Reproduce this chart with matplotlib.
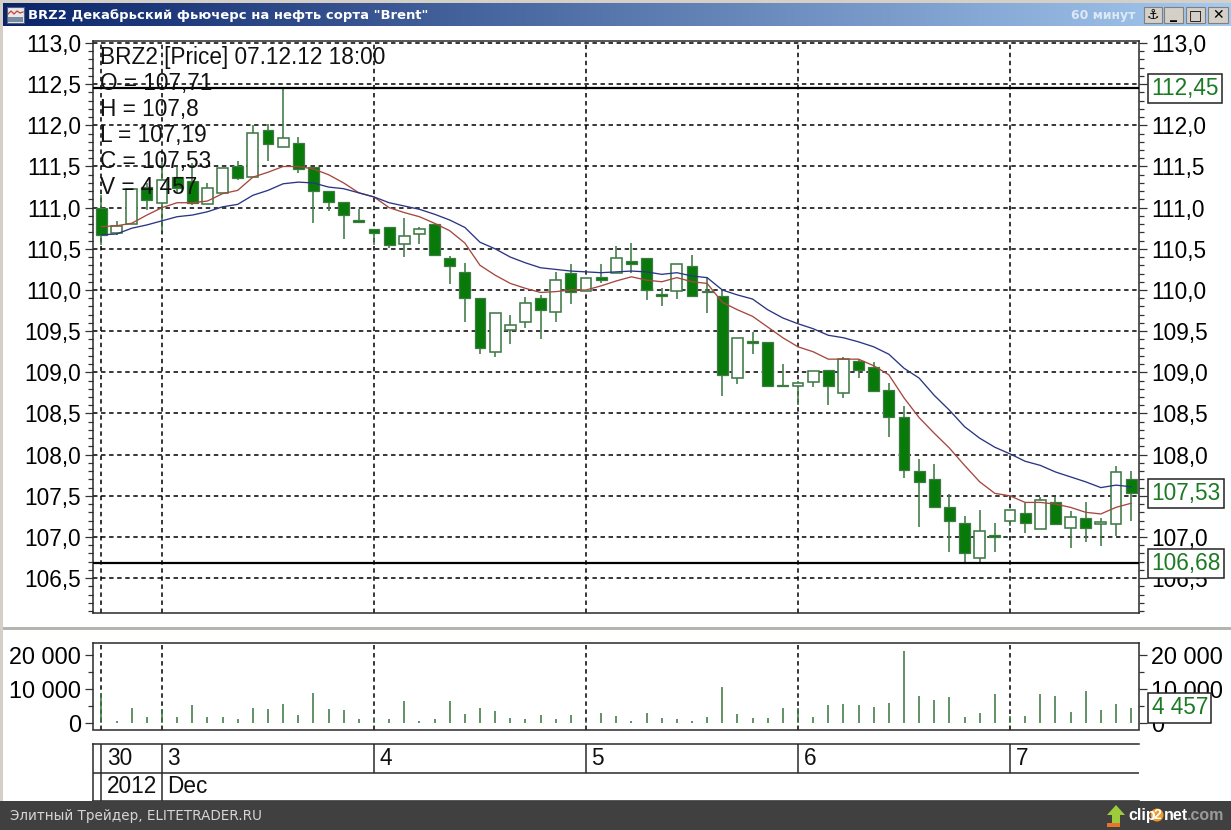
import numpy as np
import matplotlib
matplotlib.use("Agg")
import matplotlib.pyplot as plt
from matplotlib.patches import Rectangle, Polygon, Circle
from matplotlib.ticker import MultipleLocator, FixedLocator, FuncFormatter

W, H = 1231, 830

opens = [111.00, 110.69, 110.80, 111.25, 111.06, 111.37, 111.32, 111.04, 111.18, 111.51,
         111.37, 111.94, 111.74, 111.79, 111.49, 111.20, 111.07, 110.85, 110.74, 110.77,
         110.56, 110.68, 110.80, 110.39, 110.22, 109.90, 109.25, 109.51, 109.61, 109.90,
         109.73, 110.21, 109.99, 110.16, 110.21, 110.35, 110.39, 109.95, 109.99, 110.29,
         109.99, 109.93, 108.93, 109.38, 109.37, 108.85, 108.83, 108.88, 109.03, 108.75,
         109.14, 109.06, 108.78, 108.46, 107.80, 107.70, 107.37, 107.17, 106.74, 107.02,
         107.19, 107.29, 107.10, 107.42, 107.11, 107.23, 107.16, 107.16, 107.71]
highs = [111.15, 110.84, 111.23, 111.30, 111.55, 111.49, 111.54, 111.30, 111.48, 111.57,
         112.00, 112.02, 112.45, 111.86, 111.49, 111.20, 111.07, 110.98, 110.74, 110.77,
         110.87, 110.77, 110.80, 110.41, 110.33, 109.90, 109.72, 109.70, 109.91, 109.94,
         110.22, 110.32, 110.15, 110.32, 110.53, 110.57, 110.39, 110.02, 110.32, 110.42,
         110.16, 110.01, 109.42, 109.49, 109.37, 109.10, 108.90, 109.02, 109.03, 109.19,
         109.16, 109.13, 108.87, 108.59, 107.95, 107.89, 107.52, 107.25, 107.33, 107.17,
         107.33, 107.41, 107.48, 107.49, 107.31, 107.42, 107.23, 107.86, 107.80]
lows = [110.55, 110.67, 110.80, 110.97, 110.72, 111.18, 111.03, 111.04, 111.18, 111.34,
        111.37, 111.57, 111.74, 111.42, 110.81, 110.96, 110.62, 110.82, 110.55, 110.51,
        110.40, 110.56, 110.42, 110.07, 109.61, 109.22, 109.19, 109.34, 109.54, 109.40,
        109.61, 109.83, 109.99, 110.08, 110.21, 110.21, 109.88, 109.80, 109.89, 109.93,
        109.72, 108.71, 108.86, 109.22, 108.83, 108.83, 108.60, 108.82, 108.60, 108.69,
        108.93, 108.77, 108.21, 107.72, 107.12, 107.36, 106.82, 106.70, 106.68, 106.82,
        107.13, 107.05, 107.10, 107.16, 106.87, 106.94, 106.89, 107.01, 107.19]
closes = [110.67, 110.78, 111.23, 111.09, 111.34, 111.24, 111.06, 111.24, 111.48, 111.36,
          111.91, 111.77, 111.85, 111.47, 111.20, 111.07, 110.91, 110.82, 110.69, 110.55,
          110.66, 110.74, 110.42, 110.29, 109.90, 109.30, 109.72, 109.57, 109.84, 109.76,
          110.12, 109.98, 110.15, 110.12, 110.39, 110.32, 110.00, 109.93, 110.32, 109.93,
          109.97, 108.97, 109.42, 109.36, 108.83, 108.83, 108.87, 109.02, 108.83, 109.16,
          109.03, 108.77, 108.46, 107.81, 107.67, 107.36, 107.19, 106.81, 107.07, 107.00,
          107.33, 107.17, 107.45, 107.16, 107.24, 107.11, 107.18, 107.79, 107.53]
ma_fast = [110.77, 110.78, 110.81, 110.91, 111.00, 111.06, 111.06, 111.08, 111.17, 111.21,
           111.37, 111.43, 111.50, 111.50, 111.47, 111.40, 111.30, 111.18, 111.13, 111.00,
           110.94, 110.89, 110.81, 110.72, 110.57, 110.30, 110.18, 110.08, 110.02, 109.97,
           109.98, 110.00, 110.00, 110.05, 110.11, 110.16, 110.12, 110.10, 110.15, 110.10,
           110.08, 109.85, 109.76, 109.68, 109.55, 109.42, 109.31, 109.25, 109.16, 109.16,
           109.16, 109.08, 108.97, 108.69, 108.45, 108.26, 108.08, 107.87, 107.67, 107.53,
           107.50, 107.42, 107.42, 107.40, 107.36, 107.30, 107.28, 107.36, 107.41]
ma_slow = [110.67, 110.68, 110.75, 110.79, 110.84, 110.89, 110.91, 110.95, 111.01, 111.04,
           111.15, 111.21, 111.29, 111.31, 111.30, 111.25, 111.23, 111.18, 111.13, 111.06,
           111.02, 110.98, 110.92, 110.85, 110.76, 110.58, 110.50, 110.40, 110.33, 110.27,
           110.25, 110.23, 110.22, 110.21, 110.22, 110.23, 110.22, 110.19, 110.21, 110.17,
           110.15, 110.00, 109.94, 109.89, 109.76, 109.66, 109.59, 109.53, 109.45, 109.42,
           109.37, 109.31, 109.22, 109.05, 108.93, 108.72, 108.54, 108.34, 108.20, 108.09,
           108.01, 107.92, 107.87, 107.79, 107.73, 107.67, 107.60, 107.63, 107.61]
volume = [8700, 700, 4500, 1900, 4000, 1900, 5200, 1900, 1900, 1100,
          4500, 4200, 5700, 2300, 8700, 4200, 3800, 1100, 1600, 1100,
          6500, 700, 1100, 6500, 2600, 4500, 3500, 1500, 1100, 2300,
          1100, 2300, 600, 3100, 2100, 700, 3100, 1500, 1100, 700,
          1900, 10600, 2600, 1500, 1500, 4500, 4500, 1900, 5200, 5700,
          5200, 4800, 6000, 21200, 8000, 6800, 7500, 1900, 2900, 8400,
          2000, 2200, 8400, 8000, 3300, 9400, 3800, 5600, 4457]

day_pos = [0, 4, 18, 32, 46, 60]
day_labels = ["30", "3", "4", "5", "6", "7"]
month_labels = ["2012", "Dec"]
month_pos = [0, 4]
level_high = 112.45
level_low = 106.68
last_close = 107.53
last_volume = 4457
info_lines = ["BRZ2 [Price] 07.12.12 18:00", "O = 107,71", "H = 107,8", "L = 107,19",
              "C = 107,53", "V = 4 457"]

plt.rcParams["font.family"] = ["Liberation Sans", "DejaVu Sans"]
plt.rcParams["lines.scale_dashes"] = False

GREEN = "#087a0a"
EDGE = "#3f7a45"
TEXT_GREEN = "#1c7a24"
DASH = (0, (3.2, 2.6))


def px_axes(fig, left, top, right, bottom, **kw):
    return fig.add_axes([left / W, 1 - bottom / H, (right - left) / W, (bottom - top) / H], **kw)


def comma(v, pos=None):
    return f"{v:.1f}".replace(".", ",")


def comma2(v):
    return f"{v:.2f}".replace(".", ",")


def spaced(v, pos=None):
    return f"{int(v):,}".replace(",", " ")


def value_box(ax, y, label, size=16.3):
    ax.annotate(label, xy=(1, y), xycoords=ax.get_yaxis_transform(), xytext=(9, 0),
                textcoords="offset points", ha="left", va="center", fontsize=size,
                color=TEXT_GREEN, annotation_clip=False, zorder=12,
                bbox=dict(boxstyle="square,pad=0.14", fc="white", ec="#222222", lw=1.1))


fig = plt.figure(figsize=(W / 100, H / 100), dpi=100, facecolor="white")

# window chrome
bg = px_axes(fig, 0, 0, W, H)
bg.set_axis_off()
left_c = np.array([10, 36, 106]) / 255
right_c = np.array([166, 202, 240]) / 255
grad = left_c + np.linspace(0, 1, 256)[None, :, None] * (right_c - left_c)
bg.imshow(grad, extent=(3, W, 26, 3), aspect="auto", interpolation="bilinear")
bg.set_xlim(0, W)
bg.set_ylim(H, 0)
bg.add_patch(Rectangle((0, 0), W, 3, fc="#d4d0c8", ec="none"))
bg.add_patch(Rectangle((0, 0), 3, H, fc="#d4d0c8", ec="none"))
bg.add_patch(Rectangle((3, 627), W, 2.5, fc="#b4b4b0", ec="none"))
bg.add_patch(Rectangle((7, 7), 17, 16, fc="#e8e8e8", ec="#50607a", lw=0.8))
bg.plot([8, 11, 14, 17, 20, 23], [14, 11, 14, 11, 13, 12], color="#c8403a", lw=0.9)
bg.add_patch(Rectangle((8, 17), 15, 5, fc="#7a8aa0", ec="none"))
bg.text(28, 15, 'BRZ2 Декабрьский фьючерс на нефть сорта "Brent"', fontsize=9.43, fontweight="bold",
        family="DejaVu Sans", color="white", va="center", ha="left")
bg.text(1071, 15, "60 минут", fontsize=9.0, fontweight="bold", family="DejaVu Sans",
        color="#dce8f4", va="center", ha="left")
for x0, x1, glyph in [(1144, 1162, "\u2693"), (1164, 1183, "_"), (1186, 1205, "\u25a1"), (1208, 1228, "\u2715")]:
    bg.add_patch(Rectangle((x0, 7), x1 - x0, 16, fc="#d4d0c8", ec="#808080", lw=0.8))
    bg.text((x0 + x1) / 2, 15, glyph, fontsize=10, family="DejaVu Sans", color="black",
            ha="center", va="center", fontweight="bold")

# price panel
ax = px_axes(fig, 93, 41, 1139, 613)
x = np.arange(len(opens))
xlim = (-0.556, 68.52)
o, h, l, c = map(np.array, (opens, highs, lows, closes))
ax.vlines(x, l, h, color=EDGE, lw=1.15, zorder=3)
up = c >= o
ax.bar(x[up], (c - o)[up], bottom=o[up], width=0.72, fc="white", ec=EDGE, lw=1.15, zorder=4)
ax.bar(x[~up], (o - c)[~up], bottom=c[~up], width=0.72, fc=GREEN, ec=EDGE, lw=0.9, zorder=4)
ax.plot(x, ma_fast, color="#a5483f", lw=0.95, zorder=5)
ax.plot(x, ma_slow, color="#2b3583", lw=0.95, zorder=5)
ax.axhline(level_high, color="black", lw=1.6, zorder=6)
ax.axhline(level_low, color="black", lw=1.6, zorder=6)
ax.set_xlim(*xlim)
ax.set_ylim(106.077, 113.024)
ax.xaxis.set_major_locator(FixedLocator(day_pos))
ax.yaxis.set_major_locator(MultipleLocator(0.5))
ax.yaxis.set_minor_locator(MultipleLocator(0.1))
ax.yaxis.set_major_formatter(FuncFormatter(comma))
ax.grid(True, which="major", color="black", lw=1.1, ls=DASH, zorder=1)
ax.set_axisbelow(True)
ax.tick_params(axis="x", length=0, labelbottom=False)
ax.tick_params(axis="y", which="major", left=True, right=True, labelleft=True, labelright=True,
               length=6, width=0.9, pad=2.5, labelsize=16.3, color="#333333")
ax.tick_params(axis="y", which="minor", left=True, right=True, length=3.5, width=0.9, color="#333333")
for s in ax.spines.values():
    s.set_linewidth(1.1)
    s.set_color("#2a2a2a")
value_box(ax, level_high, comma2(level_high))
value_box(ax, last_close, comma2(last_close))
value_box(ax, level_low, comma2(level_low))
for k, line in enumerate(info_lines):
    ax.annotate(line, xy=(0, 1), xycoords="axes fraction", xytext=(4.9, -12.2 - k * 18.6),
                textcoords="offset points", fontsize=16.3, color="#111111", ha="left", va="center",
                zorder=11, annotation_clip=False)

# volume panel
vax = px_axes(fig, 93, 643, 1139, 729.5)
vax.vlines(x, 0, volume, color=EDGE, lw=1.15, zorder=3)
vax.set_xlim(*xlim)
vax.set_ylim(-1840, 23400)
vax.xaxis.set_major_locator(FixedLocator(day_pos))
vax.yaxis.set_major_locator(MultipleLocator(10000))
vax.yaxis.set_minor_locator(MultipleLocator(5000))
vax.yaxis.set_major_formatter(FuncFormatter(spaced))
vax.grid(True, axis="x", color="black", lw=1.1, ls=DASH, zorder=1)
vax.set_axisbelow(True)
vax.tick_params(axis="x", length=0, labelbottom=False)
vax.tick_params(axis="y", which="major", left=True, right=True, labelleft=True, labelright=True,
                length=6, width=0.9, pad=2.5, labelsize=16.8, color="#333333")
vax.tick_params(axis="y", which="minor", left=True, right=True, length=3.5, width=0.9, color="#333333")
for s in vax.spines.values():
    s.set_linewidth(1.1)
    s.set_color("#2a2a2a")
value_box(vax, last_volume, spaced(last_volume))

# date panel
dax = px_axes(fig, 93, 744, 1139, 801)
dax.set_xlim(*xlim)
dax.set_ylim(0, 2)
dax.set_xticks([])
dax.set_yticks([])
dax.spines["right"].set_visible(False)
for s in dax.spines.values():
    s.set_linewidth(1.1)
    s.set_color("#2a2a2a")
dax.axhline(1, color="#2a2a2a", lw=1.1)
dax.vlines(day_pos, 1, 2, color="#2a2a2a", lw=1.1)
dax.vlines(month_pos, 0, 1, color="#2a2a2a", lw=1.1)
for pos, lab in zip(day_pos, day_labels):
    dax.annotate(lab, xy=(pos, 1.5), xytext=(4, 0), textcoords="offset points", fontsize=16.3,
                 va="center", ha="left", color="#111111")
for pos, lab in zip(month_pos, month_labels):
    dax.annotate(lab, xy=(pos, 0.5), xytext=(4, 0), textcoords="offset points", fontsize=16.3,
                 va="center", ha="left", color="#111111")

# footer
ft = px_axes(fig, 0, 0, W, H, zorder=20)
ft.set_axis_off()
ft.patch.set_alpha(0)
ft.set_xlim(0, W)
ft.set_ylim(H, 0)
ft.add_patch(Rectangle((0, 801), W, 29, fc="#404040", ec="none"))
ft.text(10, 815.5, "Элитный Трейдер, ELITETRADER.RU", fontsize=9.75, family="DejaVu Sans",
        color="#d6d6d6", va="center", ha="left")
ft.add_patch(Polygon([[1116, 805], [1125, 815], [1120, 815], [1120, 824], [1112, 824], [1112, 815], [1107, 815]],
                     fc="#9ccc3c", ec="none"))
ft.add_patch(Rectangle((1107, 823), 13, 4, fc="#e8742a", ec="none"))
ft.text(1128, 815, "clip", fontsize=11.5, fontweight="bold", color="white", va="center", ha="left",
        family="Liberation Sans")
ft.add_patch(Circle((1157, 815), 6.5, fc="#f09a28", ec="none"))
ft.text(1157, 815, "2", fontsize=10, fontweight="bold", color="white", va="center", ha="center",
        family="Liberation Sans")
ft.text(1164, 815, "net", fontsize=11.5, fontweight="bold", color="white", va="center", ha="left",
        family="Liberation Sans")
ft.text(1187, 815, ".com", fontsize=11.5, fontweight="bold", color="#9a9a9a", va="center", ha="left",
        family="Liberation Sans")

fig.savefig("out.png", dpi=100)
